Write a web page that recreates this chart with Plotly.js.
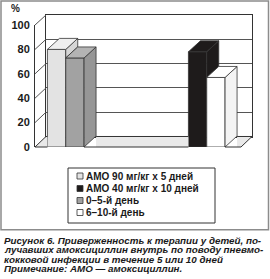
<!DOCTYPE html>
<html>
<head>
<meta charset="utf-8">
<script src="https://cdn.plot.ly/plotly-3.0.1.min.js"></script>
<style>html,body{margin:0;padding:0;background:#fff;}#chart{width:270px;height:279px;}</style>
</head>
<body>
<div id="chart"></div>
<script>
// ---- data ----
const categories = ['5 дней', '10 дней'];
const seriesNames = ['АМО 90 мг/кг x 5 дней', 'АМО 40 мг/кг x 10 дней', '0–5-й день', '6–10-й день'];
const amo90 = [80, null];
const amo40 = [null, 78];
const day0to5 = [73, null];
const day6to10 = [null, 57];
const yTicks = [0, 20, 40, 60, 80, 100];
const captionLines = [
  'Рисунок 6. Приверженность к терапии у детей, по-',
  'лучавших амоксициллин внутрь по поводу пневмо-',
  'кокковой инфекции в течение 5 или 10 дней',
  'Примечание: АМО — амоксициллин.'
];

// ---- geometry / styles ----
const W = 270, H = 279;
const M = {l: 35, r: 18, t: 15, b: 132};
const PW = W - M.l - M.r, PH = H - M.t - M.b;
const px2x = p => (p - M.l) / PW;
const py2y = p => (H - M.b - p) / PH;
const FX = [0, px2x(241)], FY = [0, py2y(25)];      // front plane
const BX = [px2x(46), 1], BY = [py2y(136.5), 1];    // back wall
const xRange = [-0.218, 1.243];
const barW = 0.13;
const dX = 12 / PW, dY = 11 / PH;                   // bar depth
const fx = v => FX[0] + (v - xRange[0]) / (xRange[1] - xRange[0]) * (FX[1] - FX[0]);
const fy = v => FY[0] + v / 100 * (FY[1] - FY[0]);
const backY = v => BY[0] + v / 100 * (BY[1] - BY[0]);
const edge = '#333333';
const gridC = '#555555';
const FONT = 'Liberation Sans, Arial, sans-serif';

const styles = [
  {front: '#e3e3e3', top: '#efefef', side: '#d6d6d6', offset: -barW},
  {front: '#1e1b1b', top: '#1e1b1b', side: '#1e1b1b', offset: -barW},
  {front: '#a2a2a2', top: '#b4b4b4', side: '#969696', offset: 0},
  {front: '#ffffff', top: '#ffffff', side: '#f4f4f4', offset: 0}
];
const seriesValues = [amo90, amo40, day0to5, day6to10];

// back-wall subplot (x/y): transparent copies, only to carry the wall grid
const traces = seriesValues.map((vals, s) => ({
  type: 'bar', x: categories, y: vals, xaxis: 'x', yaxis: 'y',
  width: barW, offset: styles[s].offset, opacity: 0,
  marker: {color: 'rgba(0,0,0,0)', line: {width: 0}},
  showlegend: false, hoverinfo: 'skip'
}));
// front plane subplot (x2/y2): the visible bars
seriesValues.forEach((vals, s) => traces.push({
  type: 'bar', x: categories, y: vals, name: seriesNames[s], xaxis: 'x2', yaxis: 'y2',
  width: barW, offset: styles[s].offset,
  marker: {color: styles[s].front, line: {color: edge, width: 0.8}},
  showlegend: false, hoverinfo: 'skip'
}));

const shapes = [];
const P = p => p[0].toFixed(5) + ',' + p[1].toFixed(5);
function poly(pts, fill, lw) {
  return {type: 'path', xref: 'paper', yref: 'paper', layer: 'above',
    path: 'M' + pts.map(P).join('L') + 'Z',
    fillcolor: fill, line: {color: edge, width: lw === undefined ? 0.8 : lw}};
}
function segs(list, color) {
  return {type: 'path', xref: 'paper', yref: 'paper', layer: 'above',
    path: list.map(s => 'M' + P([s[0], s[1]]) + 'L' + P([s[2], s[3]])).join(''),
    fillcolor: 'rgba(0,0,0,0)', line: {color: color, width: 1}};
}
function subtract(a, b, holes) {
  const out = []; let cur = a;
  holes.forEach(h => {
    if (h[1] <= cur || h[0] >= b) return;
    if (h[0] > cur) out.push([cur, h[0]]);
    cur = Math.max(cur, h[1]);
  });
  if (cur < b) out.push([cur, b]);
  return out;
}

// bars (for 3D faces), derived from the data
const bars = [];
seriesValues.forEach((vals, s) => vals.forEach((v, i) => {
  if (v == null) return;
  const left = i + styles[s].offset;
  bars.push({left: left, right: left + barW, v: v, st: styles[s]});
}));
bars.sort((a, b) => a.left - b.left);
const fronts = bars.map(b => [fx(b.left), fx(b.right), fy(b.v)]);

// side and top faces
bars.forEach(b => {
  const L = fx(b.left), R = fx(b.right), T = fy(b.v);
  const nb = bars.find(o => Math.abs(o.left - b.right) < 1e-9);
  const h = nb ? fy(Math.min(nb.v, b.v)) : fy(0);
  if (!nb || nb.v < b.v) {
    shapes.push(poly([[R, h], [R, T], [R + dX, T + dY], [R + dX, h + dY]], b.st.side));
  }
  shapes.push(poly([[L, T], [L + dX, T + dY], [R + dX, T + dY], [R, T]], b.st.top));
});

// floor pieces (not over the bars)
const floorHoles = fronts.map(f => [f[0], f[1] + dX]);
subtract(FX[0], BX[1], floorHoles).forEach(([a, b]) => {
  let pts;
  if (a <= FX[0] + 1e-9) pts = [[FX[0], FY[0]], [b, FY[0]], [b, BY[0]], [BX[0], BY[0]]];
  else if (b >= BX[1] - 1e-9) pts = [[a, FY[0]], [FX[1], FY[0]], [BX[1], BY[0]], [a, BY[0]]];
  else pts = [[a, FY[0]], [b, FY[0]], [b, BY[0]], [a, BY[0]]];
  shapes.push(poly(pts, '#e9e9e9', 0));
});
const edgeSegs = [], gridSegs = [];
subtract(FX[0], FX[1], fronts.map(f => [f[0], f[1]])).forEach(([a, b]) => edgeSegs.push([a, FY[0], b, FY[0]]));
edgeSegs.push([FX[1], FY[0], BX[1], BY[0]]);
subtract(BX[0], BX[1], floorHoles).forEach(([a, b]) => edgeSegs.push([a, BY[0], b, BY[0]]));
// left wall diagonals
yTicks.forEach(t => (t === 0 ? edgeSegs : gridSegs).push([FX[0], fy(t), BX[0], backY(t)]));
shapes.push(segs(gridSegs, gridC));
shapes.push(segs(edgeSegs, edge));

// outer frame
shapes.push({type: 'rect', xref: 'paper', yref: 'paper', layer: 'below',
  x0: px2x(1), x1: px2x(268.5), y0: py2y(229.7), y1: py2y(1),
  line: {color: '#8c8c8c', width: 1.5}});
// legend box
shapes.push({type: 'rect', xref: 'paper', yref: 'paper',
  x0: px2x(68), x1: px2x(215), y0: py2y(223), y1: py2y(168),
  line: {color: edge, width: 1}});

const annotations = [];
const legendOrder = [0, 1, 2, 3];
const legendY = [176, 188.5, 200.5, 212.5];
legendOrder.forEach((s, k) => {
  shapes.push({type: 'rect', xref: 'paper', yref: 'paper',
    x0: px2x(77), x1: px2x(83), y0: py2y(legendY[k] + 3), y1: py2y(legendY[k] - 3),
    fillcolor: styles[s].front, line: {color: edge, width: 0.8}});
  annotations.push({xref: 'paper', yref: 'paper', x: px2x(84), y: py2y(legendY[k]),
    xanchor: 'left', yanchor: 'middle', showarrow: false, text: '<b>' + seriesNames[s] + '</b>',
    font: {size: 10, color: '#1a1a1a', family: FONT}});
});
annotations.push({xref: 'paper', yref: 'paper', x: px2x(15), y: py2y(8),
  xanchor: 'center', yanchor: 'middle', showarrow: false, text: '<b>%</b>',
  font: {size: 10, color: '#1a1a1a', family: FONT}});
const capY = [240, 249.6, 259.2, 268.8];
captionLines.forEach((t, k) => annotations.push({xref: 'paper', yref: 'paper',
  x: px2x(2), y: py2y(capY[k]), xanchor: 'left', yanchor: 'middle', showarrow: false,
  text: '<b><i>' + t + '</i></b>',
  font: {size: 9.8, color: '#1a1a1a', family: FONT}}));

const layout = {
  width: W, height: H, margin: M,
  paper_bgcolor: '#fff', plot_bgcolor: 'rgba(0,0,0,0)',
  showlegend: false,
  font: {family: FONT, color: '#1a1a1a'},
  barmode: 'overlay',
  // back wall
  xaxis: {domain: BX, type: 'category', range: xRange, showticklabels: false, showgrid: false,
          zeroline: false, showline: true, mirror: true, linecolor: edge, linewidth: 1,
          ticks: '', fixedrange: true},
  yaxis: {domain: BY, range: [0, 100], tickvals: yTicks, showticklabels: false, showgrid: true,
          gridcolor: gridC, gridwidth: 1, zeroline: false, showline: true, mirror: true,
          linecolor: edge, linewidth: 1, ticks: '', fixedrange: true},
  // front plane
  xaxis2: {domain: FX, type: 'category', range: xRange, anchor: 'y2', showticklabels: false,
           showgrid: false, zeroline: false, showline: false, ticks: '', fixedrange: true},
  yaxis2: {domain: FY, range: [0, 100], anchor: 'x2', tickvals: yTicks,
           ticktext: yTicks.map(t => '<b>' + t + '</b>'), showgrid: false, zeroline: false,
           showline: true, linecolor: edge, linewidth: 1, ticks: '', ticklabelstandoff: 2,
           tickfont: {size: 11, color: '#1a1a1a'}, fixedrange: true},
  shapes: shapes, annotations: annotations
};
Plotly.newPlot('chart', traces, layout, {staticPlot: true, displayModeBar: false});
</script>
</body>
</html>
